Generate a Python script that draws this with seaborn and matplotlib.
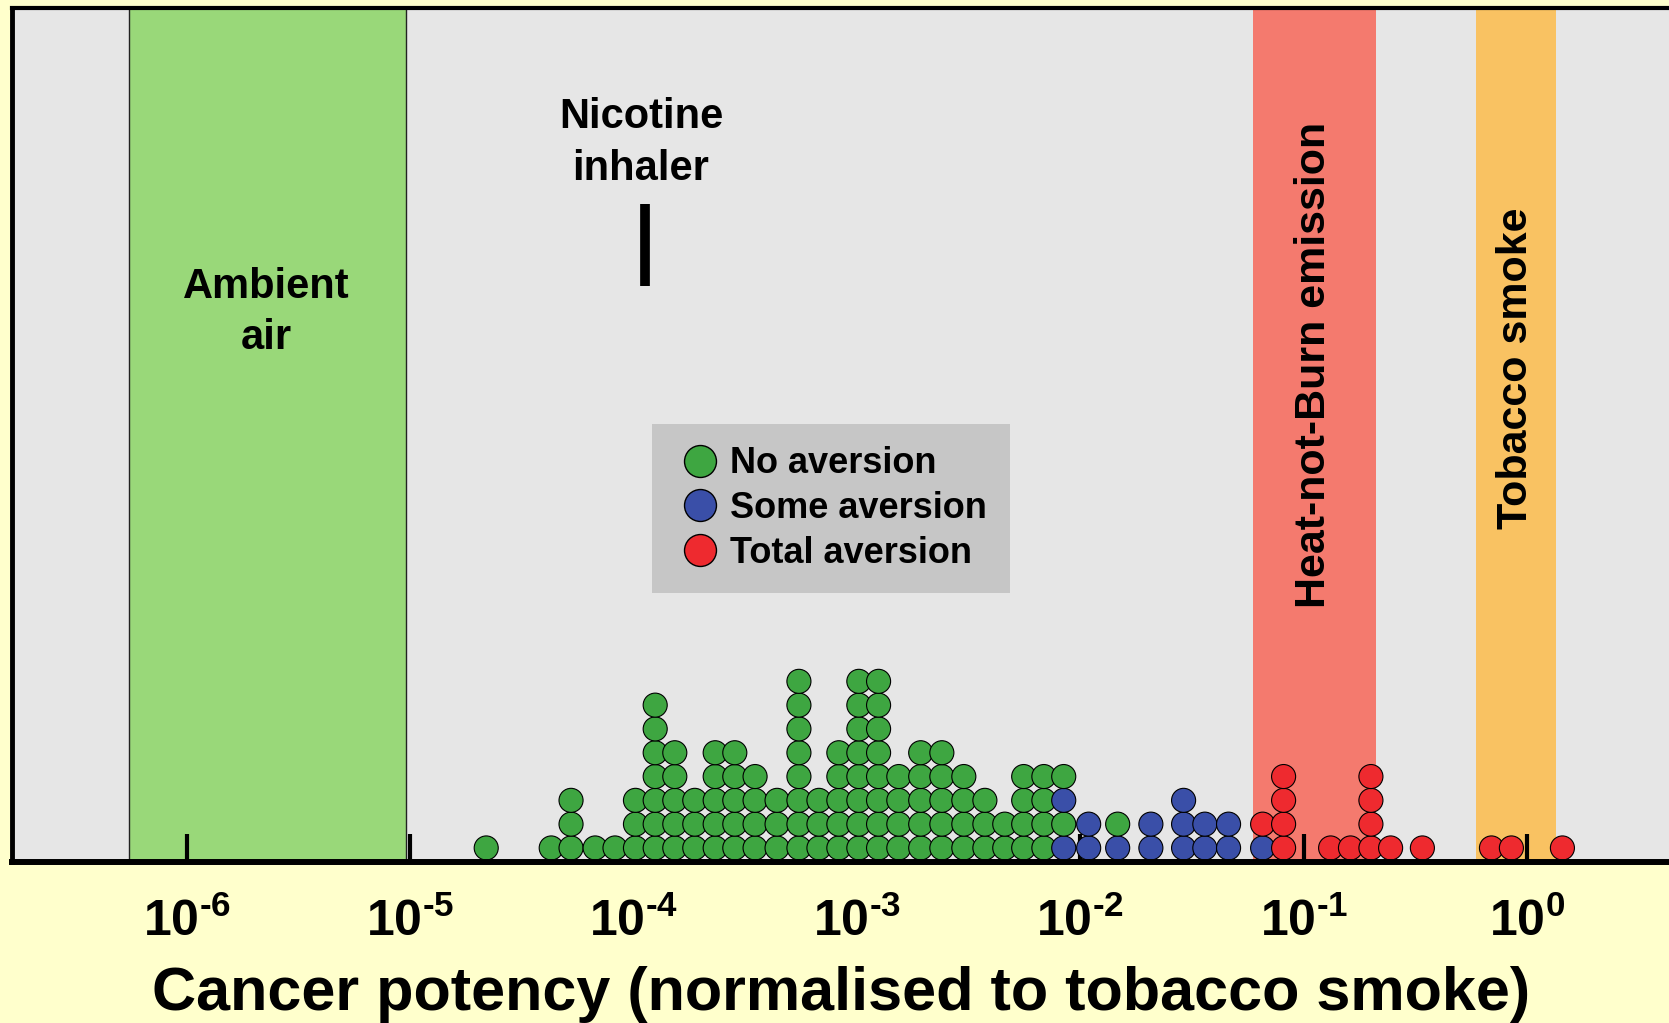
import matplotlib
matplotlib.use("Agg")
import matplotlib.pyplot as plt
import matplotlib.transforms as mtransforms
from matplotlib.ticker import NullLocator
import pandas as pd
import seaborn as sns

# one entry per dot column: potency (normalised to tobacco smoke)
potency = [2.19e-5, 4.28e-5, 5.25e-5, 6.73e-5, 8.26e-5, 1.02e-4, 1.25e-4, 1.53e-4,
           1.88e-4, 2.32e-4, 2.84e-4, 3.50e-4, 4.39e-4, 5.50e-4, 6.76e-4, 8.30e-4,
           1.02e-3, 1.25e-3, 1.54e-3, 1.93e-3, 2.40e-3, 3.01e-3, 3.74e-3, 4.59e-3,
           5.58e-3, 6.87e-3, 8.43e-3, 1.09e-2, 1.47e-2, 2.07e-2, 2.90e-2, 3.61e-2,
           4.61e-2, 6.55e-2, 8.13e-2, 0.132, 0.162, 0.200, 0.245, 0.340,
           0.693, 0.851, 1.44]
# dots in each column from the bottom up: N = no, S = some, T = total aversion
stacks = ["N", "N", "NNN", "N", "N", "NNN", "NNNNNNN", "NNNNN",
          "NNN", "NNNNN", "NNNNN", "NNNN", "NNN", "NNNNNNNN", "NNN", "NNNNN",
          "NNNNNNNN", "NNNNNNNN", "NNNN", "NNNNN", "NNNNN", "NNNN", "NNN", "NN",
          "NNNN", "NNNN", "SNSN", "SS", "SN", "SS", "SSS", "SS",
          "SS", "ST", "TTTT", "T", "T", "TTTT", "T", "T",
          "T", "T", "T"]

aversion_names = {"N": "No aversion", "S": "Some aversion", "T": "Total aversion"}
aversion_colors = {"No aversion": "#3EA641", "Some aversion": "#3A4FA8",
                   "Total aversion": "#EE2A2F"}

# reference ranges drawn as shaded bands
band_names = ["Ambient\nair", "Heat-not-Burn emission", "Tobacco smoke"]
band_lo = [5.5e-7, 0.0592, 0.592]
band_hi = [9.6e-6, 0.210, 1.35]
band_colors = ["#99D879", "#F47A6E", "#F9C262"]
nicotine_inhaler = 1.13e-4

tick_values = [1e-6, 1e-5, 1e-4, 1e-3, 1e-2, 1e-1, 1e0]
tick_labels = [r"$10^{\text{-6}}$", r"$10^{\text{-5}}$", r"$10^{\text{-4}}$",
               r"$10^{\text{-3}}$", r"$10^{\text{-2}}$", r"$10^{\text{-1}}$",
               r"$10^{\text{0}}$"]

rows = []
for p, st in zip(potency, stacks):
    for level, code in enumerate(st):
        rows.append({"potency": p, "level": level, "aversion": aversion_names[code]})
df = pd.DataFrame(rows)

plt.rcParams["font.family"] = ["Liberation Sans", "DejaVu Sans"]
plt.rcParams["font.weight"] = "bold"
plt.rcParams["mathtext.fontset"] = "custom"
plt.rcParams["mathtext.rm"] = "Liberation Sans:bold"
plt.rcParams["mathtext.bf"] = "Liberation Sans:bold"
plt.rcParams["mathtext.it"] = "Liberation Sans:bold"

W, H = 1669, 1023
fig = plt.figure(figsize=(W / 100, H / 100), dpi=100, facecolor="#FFFFCC")
ax = fig.add_axes([12 / W, 1 - 862 / H, 1 - 12 / W, (862 - 7.5) / H])
ax.set_facecolor("#E6E6E6")
ax.set_xscale("log")

for lo, hi, c, name in zip(band_lo, band_hi, band_colors, band_names):
    edge = "#222222" if name.startswith("Ambient") else "none"
    ax.axvspan(lo, hi, facecolor=c, edgecolor=edge, linewidth=1, zorder=0.5)

sns.scatterplot(data=df, x="potency", y="level", hue="aversion",
                hue_order=list(aversion_colors), palette=aversion_colors,
                s=300, edgecolor="black", linewidth=0.8, ax=ax, zorder=2)

ax.set_xlim(1.65e-7, 4.32)
ax.set_ylim(-0.59, 35.31)

trans = mtransforms.blended_transform_factory(ax.transData, ax.transAxes)
ax.axvline(nicotine_inhaler, ymin=0.674, ymax=0.770, color="black", linewidth=7,
           solid_capstyle="butt")
ax.text(1.08e-4, 0.8415, "Nicotine\ninhaler", transform=trans, ha="center",
        va="center", fontsize=30, fontweight="bold", linespacing=1.36)
ax.text(2.28e-6, 0.643, band_names[0], transform=trans, ha="center",
        va="center", fontsize=30, fontweight="bold", linespacing=1.38)
ax.text(0.111, 0.5816, band_names[1], transform=trans, ha="center",
        va="center", fontsize=31, fontweight="bold", rotation=90)
ax.text(0.893, 0.578, band_names[2], transform=trans, ha="center",
        va="center", fontsize=31, fontweight="bold", rotation=90)

ax.set_xticks(tick_values, labels=tick_labels)
ax.xaxis.set_minor_locator(NullLocator())
ax.tick_params(axis="x", direction="in", length=20, width=3, pad=26,
               labelsize=36, top=False)
ax.set_yticks([])
ax.set_ylabel("")
ax.set_xlabel("Cancer potency (normalised to tobacco smoke)", fontsize=44,
              fontweight="bold")
ax.xaxis.set_label_coords(0.5003, -0.122)

ax.spines["right"].set_visible(False)
ax.spines["left"].set_linewidth(3.5)
ax.spines["top"].set_linewidth(3)
ax.spines["bottom"].set_linewidth(4.3)

sns.move_legend(ax, "upper left", bbox_to_anchor=(0.386, 0.5126), title=None,
                frameon=True, fancybox=False, facecolor="#C6C6C6",
                edgecolor="none", framealpha=1, borderaxespad=0,
                fontsize=26, borderpad=0.62, labelspacing=0.27,
                handlelength=1.44, handletextpad=0.12)
leg = ax.get_legend()
for h in leg.legend_handles:
    if hasattr(h, "set_markersize"):
        h.set_markersize(23)
        h.set_markeredgewidth(1)
        h.set_markeredgecolor("black")
    else:
        h.set_sizes([530])

fig.savefig("out.png", dpi=100, facecolor=fig.get_facecolor())
